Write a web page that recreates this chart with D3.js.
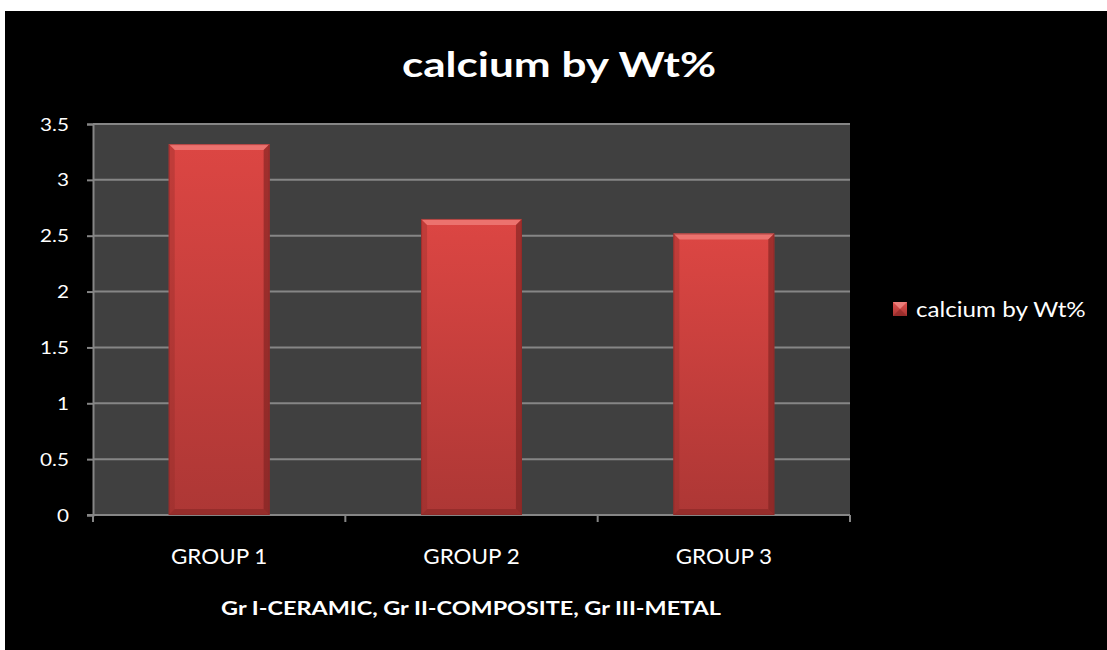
<!DOCTYPE html>
<html>
<head>
<meta charset="utf-8">
<script src="https://cdn.jsdelivr.net/npm/d3@7"></script>
<style>
  html, body { margin: 0; padding: 0; background: #ffffff; }
  svg { display: block; }
  text { font-family: Lato, "Open Sans", sans-serif; fill: #ffffff; }
</style>
</head>
<body>
<script>
// Chart data
const categories = ["GROUP 1", "GROUP 2", "GROUP 3"];
const calciumValues = [3.32, 2.65, 2.52];
const yTicks = [0, 0.5, 1, 1.5, 2, 2.5, 3, 3.5];
const seriesName = "calcium by Wt%";
const chartTitle = "calcium by Wt%";
const xAxisTitle = "Gr I-CERAMIC, Gr II-COMPOSITE, Gr III-METAL";

const W = 1107, H = 650;
const plot = { left: 93, top: 124, right: 850, bottom: 515 };

const svg = d3.select("body").append("svg")
  .attr("width", W).attr("height", H);

// Text helper: places a label at (x, y) with a horizontal stretch factor
function label(parent, x, y, str, opts) {
  return parent.append("text")
    .attr("transform", `translate(${x},${y}) scale(${opts.sx || 1},1)`)
    .attr("text-anchor", opts.anchor || "start")
    .attr("font-size", opts.size)
    .attr("font-weight", opts.bold ? "bold" : "normal")
    .text(str);
}

// Bar gradient
const defs = svg.append("defs");
const grad = defs.append("linearGradient").attr("id", "barFill")
  .attr("x1", 0).attr("y1", 0).attr("x2", 0).attr("y2", 1);
grad.append("stop").attr("offset", "0%").attr("stop-color", "#dc4643");
grad.append("stop").attr("offset", "100%").attr("stop-color", "#ad3735");

const legGrad = defs.append("linearGradient").attr("id", "legFill")
  .attr("x1", 0).attr("y1", 0).attr("x2", 0).attr("y2", 1);
legGrad.append("stop").attr("offset", "0%").attr("stop-color", "#e0504d");
legGrad.append("stop").attr("offset", "100%").attr("stop-color", "#a93533");

// Chart background
svg.append("rect")
  .attr("x", 5).attr("y", 11).attr("width", W - 5).attr("height", H - 11)
  .attr("fill", "#000000");

// Plot area
svg.append("rect")
  .attr("x", plot.left).attr("y", plot.top)
  .attr("width", plot.right - plot.left).attr("height", plot.bottom - plot.top)
  .attr("fill", "#404040");

const x = d3.scaleBand()
  .domain(categories)
  .range([plot.left, plot.right])
  .paddingInner(0.6).paddingOuter(0.3);

const xOuter = d3.scaleBand()
  .domain(categories)
  .range([plot.left, plot.right]);

const y = d3.scaleLinear()
  .domain([0, 3.5])
  .range([plot.bottom, plot.top]);

// Horizontal gridlines
svg.append("g").selectAll("line")
  .data(yTicks.filter(d => d > 0))
  .join("line")
  .attr("x1", plot.left).attr("x2", plot.right)
  .attr("y1", d => y(d)).attr("y2", d => y(d))
  .attr("stroke", "#868686").attr("stroke-width", 2);

// Y axis line and ticks
const yAxis = svg.append("g")
  .attr("transform", `translate(${plot.left},0)`)
  .call(d3.axisLeft(y).tickValues(yTicks).tickSize(6).tickFormat(""));
yAxis.select(".domain").attr("stroke", "#868686").attr("stroke-width", 2);
yAxis.selectAll(".tick line").attr("stroke", "#868686").attr("stroke-width", 2);

// Y tick labels
const yLabels = svg.append("g");
yTicks.forEach(t => {
  label(yLabels, 69, y(t) + 6.5, d3.format("")(t), { size: 18, sx: 1.15, anchor: "end" });
});

// X axis (ticks at band boundaries)
const xAxisG = svg.append("g");
xAxisG.append("line")
  .attr("x1", plot.left - 6).attr("x2", plot.right)
  .attr("y1", plot.bottom).attr("y2", plot.bottom)
  .attr("stroke", "#868686").attr("stroke-width", 2);
const boundaries = categories.map(c => xOuter(c)).concat([xOuter(categories[2]) + xOuter.bandwidth()]);
xAxisG.selectAll("line.tk")
  .data(boundaries)
  .join("line").attr("class", "tk")
  .attr("x1", d => d).attr("x2", d => d)
  .attr("y1", plot.bottom).attr("y2", plot.bottom + 7)
  .attr("stroke", "#868686").attr("stroke-width", 2);
categories.forEach(c => {
  label(xAxisG, xOuter(c) + xOuter.bandwidth() / 2, 564, c, { size: 22, sx: 1.02, anchor: "middle" });
});

// Bars with bevelled edges
const bev = 6;
const bars = svg.append("g").selectAll("g")
  .data(categories.map((c, i) => ({ cat: c, value: calciumValues[i] })))
  .join("g");

bars.each(function(d) {
  const g = d3.select(this);
  const x0 = x(d.cat), x1 = x0 + x.bandwidth();
  const y0 = y(d.value), y1 = y(0);
  g.append("rect")
    .attr("x", x0).attr("y", y0)
    .attr("width", x1 - x0).attr("height", y1 - y0)
    .attr("fill", "url(#barFill)");
  // top bevel (highlight)
  g.append("polygon")
    .attr("points", [[x0, y0], [x1, y0], [x1 - bev, y0 + bev], [x0 + bev, y0 + bev]].join(" "))
    .attr("fill", "#ee7a76").attr("opacity", 0.85);
  // left bevel
  g.append("polygon")
    .attr("points", [[x0, y0], [x0 + bev, y0 + bev], [x0 + bev, y1 - bev], [x0, y1]].join(" "))
    .attr("fill", "#8f2a28").attr("opacity", 0.35);
  // right bevel (shadow)
  g.append("polygon")
    .attr("points", [[x1, y0], [x1, y1], [x1 - bev, y1 - bev], [x1 - bev, y0 + bev]].join(" "))
    .attr("fill", "#7a2220").attr("opacity", 0.6);
  // bottom bevel
  g.append("polygon")
    .attr("points", [[x0, y1], [x1, y1], [x1 - bev, y1 - bev], [x0 + bev, y1 - bev]].join(" "))
    .attr("fill", "#7a2220").attr("opacity", 0.45);
  // thin outline
  g.append("rect")
    .attr("x", x0 + 0.5).attr("y", y0 + 0.5)
    .attr("width", x1 - x0 - 1).attr("height", y1 - y0 - 1)
    .attr("fill", "none").attr("stroke", "#8a2826").attr("stroke-width", 1).attr("opacity", 0.6);
});

// Title
label(svg, 559, 77, chartTitle, { size: 35, sx: 1.26, bold: true, anchor: "middle" });

// X axis title
label(svg, 471, 615, xAxisTitle, { size: 19.5, sx: 1.2, bold: true, anchor: "middle" });

// Legend
const leg = svg.append("g");
leg.append("rect")
  .attr("x", 893).attr("y", 302).attr("width", 14).attr("height", 14)
  .attr("fill", "url(#legFill)");
leg.append("polygon")
  .attr("points", "893,302 907,302 900,309")
  .attr("fill", "#ef8a86").attr("opacity", 0.8);
leg.append("polygon")
  .attr("points", "893,316 907,316 900,309")
  .attr("fill", "#8a2624").attr("opacity", 0.6);
label(leg, 916, 317, seriesName, { size: 22, sx: 1.1 });
</script>
</body>
</html>
